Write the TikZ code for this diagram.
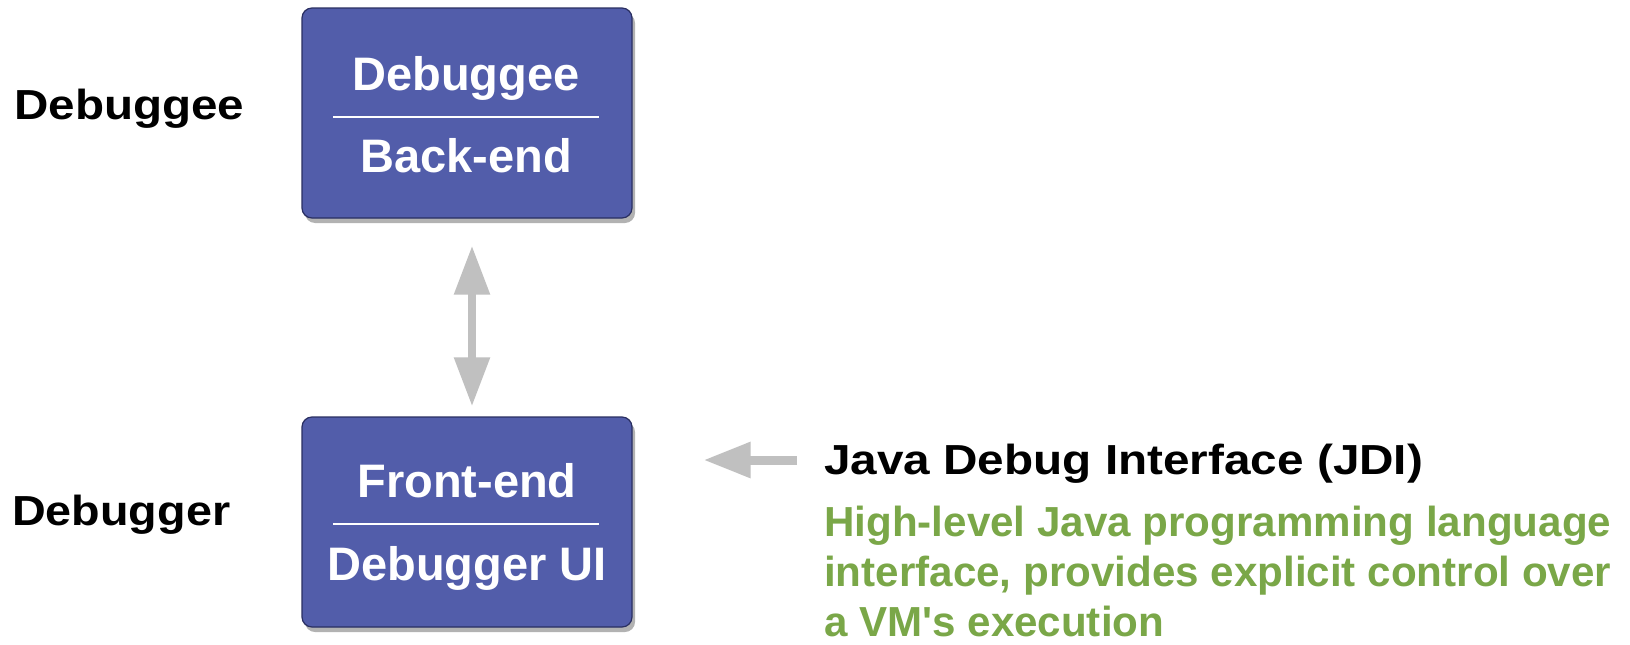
\documentclass[tikz,border=0pt]{standalone}
\usepackage{fontspec}
\setmainfont{Liberation Sans}
\usetikzlibrary{arrows.meta,shadows,calc}
\definecolor{boxblue}{RGB}{82,93,170}
\definecolor{boxedge}{RGB}{42,47,98}
\definecolor{arrgray}{RGB}{192,192,192}
\definecolor{jgreen}{RGB}{122,167,72}
\newcommand{\wfit}[2]{\resizebox{#1}{\height}{#2}}
\begin{document}
\begin{tikzpicture}[x=1pt,y=-1pt,
  box/.style={draw=boxedge, line width=1.2pt, fill=boxblue, rounded corners=10pt,
    minimum width=330pt, minimum height=210pt, inner sep=0pt,
    drop shadow={shadow xshift=3pt, shadow yshift=-5pt, opacity=0.3, fill=black}},
  boxtxt/.style={text=white, font=\fontsize{47}{47}\selectfont\bfseries, inner sep=0pt, anchor=base},
  lbl/.style={text=black, font=\fontsize{42}{42}\selectfont\bfseries, inner sep=0pt, anchor=base west},
  greentxt/.style={text=jgreen, font=\fontsize{42}{42}\selectfont\bfseries, inner sep=0pt, anchor=base west},
  varrow/.style={draw=arrgray, line width=8.5pt,
    arrows={Triangle[length=49pt,width=34pt]-Triangle[length=49pt,width=34pt]}},
  harrow/.style={draw=arrgray, line width=9pt, arrows={-Triangle[length=47pt,width=34pt]}},
  divider/.style={draw=white, line width=1.2pt}
]
\useasboundingbox (0,0) rectangle (1630,645);
\fill[white] (0,0) rectangle (1630,645);

% boxes
\node[box] (topbox) at (467,113) {};
\node[box] (botbox) at (467,522) {};

\node[boxtxt] (tb1) at (466,90) {Debuggee};
\node[boxtxt] (tb2) at (466,172) {Back-end};
\draw[divider] ($(topbox.west)+(32,4)$) -- ($(topbox.east)+(-34,4)$);

\node[boxtxt] (bb1) at (467,497) {Front-end};
\node[boxtxt] (bb2) at (467,580) {Debugger UI};
\draw[divider] ($(botbox.west)+(32,2)$) -- ($(botbox.east)+(-34,2)$);

% left labels
\node[lbl] (lee) at (14,119) {\wfit{230pt}{Debuggee}};
\node[lbl] (ler) at (12,525) {\wfit{218pt}{Debugger}};

% JDI text
\node[lbl] (title) at (824,474) {\wfit{599pt}{Java Debug Interface (JDI)}};
\node[greentxt] (g1) at (824,536) {\wfit{787pt}{High-level Java programming language}};
\node[greentxt] (g2) at (824,586) {\wfit{787pt}{interface, provides explicit control over}};
\node[greentxt] (g3) at (824,636) {\wfit{340pt}{a VM\textquotesingle s execution}};

% arrows
\draw[varrow, shorten <=27pt, shorten >=10pt] ([xshift=5pt]topbox.south) -- ([xshift=5pt]botbox.north);
\draw[harrow, shorten <=27pt, shorten >=71pt] ([yshift=14pt]title.base west) -- ([yshift=14pt]title.base west -| botbox.east);
\end{tikzpicture}
\end{document}
